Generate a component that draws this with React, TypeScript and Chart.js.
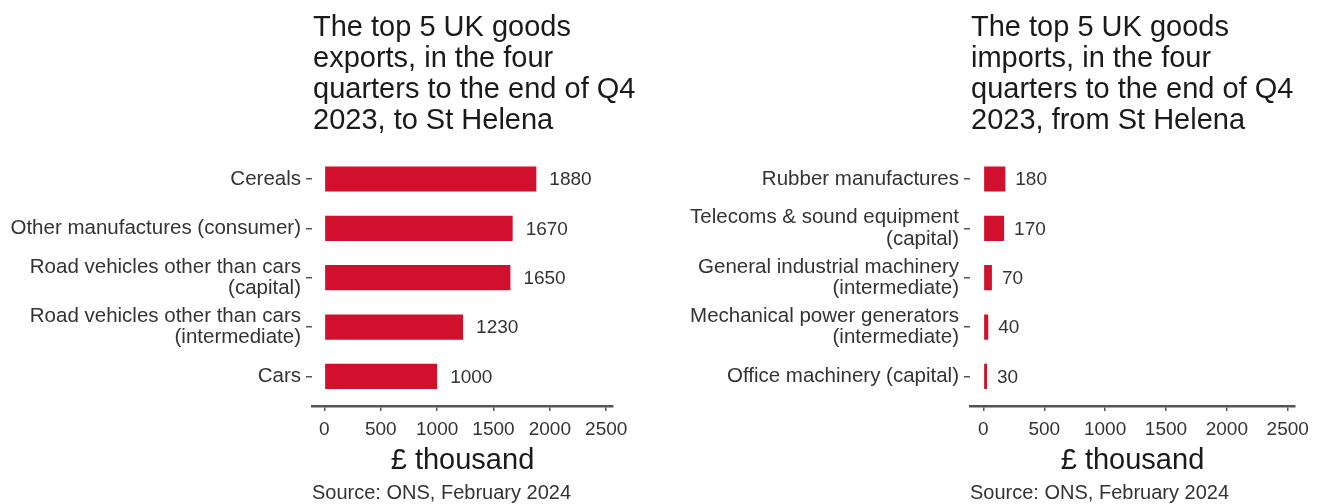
import React, { useEffect, useRef } from "react";
import { Chart, registerables } from "chart.js";

Chart.register(...registerables);

const exportCategories: (string | string[])[] = [
  "Cereals",
  "Other manufactures (consumer)",
  ["Road vehicles other than cars", "(capital)"],
  ["Road vehicles other than cars", "(intermediate)"],
  "Cars",
];
const exportValues = [1880, 1670, 1650, 1230, 1000];

const importCategories: (string | string[])[] = [
  "Rubber manufactures",
  ["Telecoms & sound equipment", "(capital)"],
  ["General industrial machinery", "(intermediate)"],
  ["Mechanical power generators", "(intermediate)"],
  "Office machinery (capital)",
];
const importValues = [180, 170, 70, 40, 30];

const xTickValues = [0, 500, 1000, 1500, 2000, 2500];

const exportTitle = [
  "The top 5 UK goods",
  "exports, in the four",
  "quarters to the end of Q4",
  "2023, to St Helena",
];
const importTitle = [
  "The top 5 UK goods",
  "imports, in the four",
  "quarters to the end of Q4",
  "2023, from St Helena",
];
const xAxisTitle = "£ thousand";
const sourceText = "Source: ONS, February 2024";

const FONT = "'Liberation Sans', Arial, sans-serif";
const BAR_COLOR = "#D0102C";
const TEXT_COLOR = "#333333";
const TITLE_COLOR = "#1a1a1a";
const AXIS_COLOR = "#555555";

function titlePlugin(lines: string[]) {
  return {
    id: "customTitle",
    afterDraw(chart: any) {
      const { ctx, chartArea } = chart;
      ctx.save();
      ctx.font = `29px ${FONT}`;
      ctx.fillStyle = TITLE_COLOR;
      ctx.textAlign = "left";
      ctx.textBaseline = "alphabetic";
      lines.forEach((l, i) => ctx.fillText(l, chartArea.left + 1, 36 + i * 31));
      ctx.restore();
    },
  };
}

function valueLabelPlugin(values: number[], gap: number) {
  return {
    id: "valueLabels",
    afterDatasetsDraw(chart: any) {
      const { ctx } = chart;
      const meta = chart.getDatasetMeta(0);
      ctx.save();
      ctx.font = `19px ${FONT}`;
      ctx.fillStyle = TEXT_COLOR;
      ctx.textAlign = "left";
      ctx.textBaseline = "middle";
      meta.data.forEach((bar: any, i: number) => {
        ctx.fillText(String(values[i]), bar.x + gap, bar.y + 1);
      });
      ctx.restore();
    },
  };
}

function makeConfig(
  categories: (string | string[])[],
  values: number[],
  title: string[],
  axisWidth: number,
  padRight: number,
  gap: number
): any {
  return {
    type: "bar",
    data: {
      datasets: [
        {
          data: values.map((v, i) => ({ x: v, y: i })),
          backgroundColor: BAR_COLOR,
          borderWidth: 0,
          categoryPercentage: 0.51,
          barPercentage: 1,
        },
      ],
    },
    options: {
      indexAxis: "y",
      animation: false,
      responsive: false,
      maintainAspectRatio: false,
      layout: { padding: { left: 0, top: 149.4, right: padRight, bottom: 0 } },
      scales: {
        x: {
          type: "linear",
          min: -110,
          max: 2560,
          offset: false,
          afterBuildTicks: (s: any) => {
            s.ticks = xTickValues.map((v) => ({ value: v }));
          },
          afterFit: (s: any) => {
            s.height = 76;
          },
          ticks: {
            autoSkip: false,
            maxRotation: 0,
            padding: 7,
            color: TEXT_COLOR,
            font: { family: FONT, size: 19 },
            callback: (v: any) => String(v),
          },
          grid: {
            offset: false,
            drawOnChartArea: false,
            drawTicks: true,
            tickLength: 5,
            color: AXIS_COLOR,
            lineWidth: 1.5,
          },
          border: { display: true, color: AXIS_COLOR, width: 2.5 },
          title: {
            display: true,
            text: xAxisTitle,
            color: TITLE_COLOR,
            font: { family: FONT, size: 29, lineHeight: 1.1 },
            padding: { top: 0, bottom: 5 },
          },
        },
        y: {
          type: "linear",
          reverse: true,
          min: -0.6,
          max: 4.6,
          offset: false,
          afterBuildTicks: (s: any) => {
            s.ticks = categories.map((_, i) => ({ value: i }));
          },
          afterFit: (s: any) => {
            s.width = axisWidth;
          },
          ticks: {
            autoSkip: false,
            padding: 5,
            color: TEXT_COLOR,
            font: { family: FONT, size: 20.5, lineHeight: 1.05 },
            callback: (v: any) => categories[v],
          },
          grid: {
            offset: false,
            drawOnChartArea: false,
            drawTicks: true,
            tickLength: 6,
            color: AXIS_COLOR,
            lineWidth: 1.5,
          },
          border: { display: false },
        },
      },
      plugins: {
        legend: { display: false },
        tooltip: { enabled: false },
        title: { display: false },
        subtitle: {
          display: true,
          text: sourceText,
          position: "bottom",
          align: "start",
          fullSize: false,
          color: TEXT_COLOR,
          font: { family: FONT, size: 20, lineHeight: 1.1 },
          padding: { top: 0, bottom: 0 },
        },
      },
    },
    plugins: [titlePlugin(title), valueLabelPlugin(values, gap)],
  };
}

export default function App() {
  const leftRef = useRef<HTMLCanvasElement>(null);
  const rightRef = useRef<HTMLCanvasElement>(null);

  useEffect(() => {
    const left = new Chart(
      leftRef.current as HTMLCanvasElement,
      makeConfig(exportCategories, exportValues, exportTitle, 312, 48, 13)
    );
    const right = new Chart(
      rightRef.current as HTMLCanvasElement,
      makeConfig(importCategories, importValues, importTitle, 309, 28, 10)
    );
    return () => {
      left.destroy();
      right.destroy();
    };
  }, []);

  return (
    <div
      style={{
        position: "absolute",
        left: 0,
        top: 0,
        width: 1323,
        height: 504,
        background: "#ffffff",
        overflow: "hidden",
      }}
    >
      <canvas
        ref={leftRef}
        width={661}
        height={504}
        style={{ position: "absolute", left: 0, top: 0, width: 661, height: 504 }}
      />
      <canvas
        ref={rightRef}
        width={662}
        height={504}
        style={{ position: "absolute", left: 661, top: 0, width: 662, height: 504 }}
      />
    </div>
  );
}
